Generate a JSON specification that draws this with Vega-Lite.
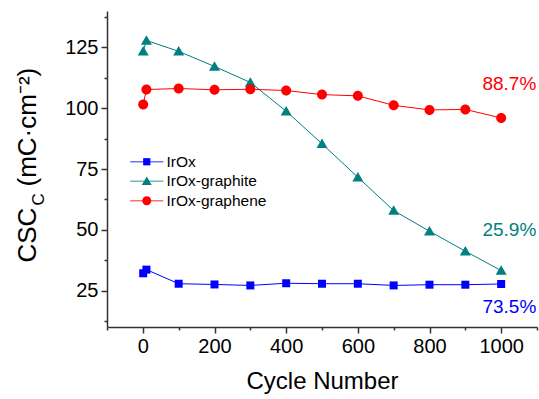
{
  "$schema": "https://vega.github.io/schema/vega-lite/v6.json",
  "width": 430,
  "height": 316,
  "autosize": {"type": "none"},
  "padding": {"left": 107, "top": 11, "right": 2, "bottom": 72},
  "background": "white",
  "config": {
    "view": {"stroke": null},
    "font": "Liberation Sans",
    "axis": {"grid": false, "domainColor": "#333333", "tickColor": "#333333", "domainWidth": 1.5, "tickWidth": 1.5, "labelColor": "#000000", "titleColor": "#000000", "labelFont": "Liberation Sans", "titleFont": "Liberation Sans", "titleFontWeight": "normal"},
    "legend": {"labelFont": "Liberation Sans"}
  },
  "datasets": {
    "points": [
      {"cycle": 1, "csc": 32.1, "series": "IrOx"},
      {"cycle": 10, "csc": 33.6, "series": "IrOx"},
      {"cycle": 100, "csc": 27.8, "series": "IrOx"},
      {"cycle": 200, "csc": 27.5, "series": "IrOx"},
      {"cycle": 300, "csc": 27.1, "series": "IrOx"},
      {"cycle": 400, "csc": 28.0, "series": "IrOx"},
      {"cycle": 500, "csc": 27.8, "series": "IrOx"},
      {"cycle": 600, "csc": 27.8, "series": "IrOx"},
      {"cycle": 700, "csc": 27.1, "series": "IrOx"},
      {"cycle": 800, "csc": 27.4, "series": "IrOx"},
      {"cycle": 900, "csc": 27.4, "series": "IrOx"},
      {"cycle": 1000, "csc": 27.7, "series": "IrOx"},
      {"cycle": 1, "csc": 123.4, "series": "IrOx-graphite"},
      {"cycle": 10, "csc": 127.9, "series": "IrOx-graphite"},
      {"cycle": 100, "csc": 123.4, "series": "IrOx-graphite"},
      {"cycle": 200, "csc": 117.2, "series": "IrOx-graphite"},
      {"cycle": 300, "csc": 110.6, "series": "IrOx-graphite"},
      {"cycle": 400, "csc": 98.8, "series": "IrOx-graphite"},
      {"cycle": 500, "csc": 85.4, "series": "IrOx-graphite"},
      {"cycle": 600, "csc": 71.6, "series": "IrOx-graphite"},
      {"cycle": 700, "csc": 57.9, "series": "IrOx-graphite"},
      {"cycle": 800, "csc": 49.4, "series": "IrOx-graphite"},
      {"cycle": 900, "csc": 41.2, "series": "IrOx-graphite"},
      {"cycle": 1000, "csc": 33.2, "series": "IrOx-graphite"},
      {"cycle": 1, "csc": 101.5, "series": "IrOx-graphene"},
      {"cycle": 10, "csc": 107.7, "series": "IrOx-graphene"},
      {"cycle": 100, "csc": 108.1, "series": "IrOx-graphene"},
      {"cycle": 200, "csc": 107.6, "series": "IrOx-graphene"},
      {"cycle": 300, "csc": 107.8, "series": "IrOx-graphene"},
      {"cycle": 400, "csc": 107.3, "series": "IrOx-graphene"},
      {"cycle": 500, "csc": 105.6, "series": "IrOx-graphene"},
      {"cycle": 600, "csc": 105.1, "series": "IrOx-graphene"},
      {"cycle": 700, "csc": 101.2, "series": "IrOx-graphene"},
      {"cycle": 800, "csc": 99.3, "series": "IrOx-graphene"},
      {"cycle": 900, "csc": 99.5, "series": "IrOx-graphene"},
      {"cycle": 1000, "csc": 96.0, "series": "IrOx-graphene"}
    ],
    "notes": [
      {"cycle": 1098, "csc": 110, "series": "IrOx-graphene", "label": "88.7%"},
      {"cycle": 1098, "csc": 50, "series": "IrOx-graphite", "label": "25.9%"},
      {"cycle": 1098, "csc": 18.4, "series": "IrOx", "label": "73.5%"}
    ]
  },
  "resolve": {
    "axis": {"x": "independent", "y": "independent"},
    "legend": {"color": "independent", "shape": "independent"}
  },
  "layer": [
    {
      "data": {"name": "points"},
      "mark": {"type": "line", "strokeWidth": 1},
      "encoding": {
        "x": {"field": "cycle", "type": "quantitative", "scale": {"domain": [-100, 1100], "nice": false, "zero": false},
          "axis": {"orient": "bottom", "values": [0, 200, 400, 600, 800, 1000], "format": "d", "tickSize": 6, "labelFontSize": 20, "labelPadding": 3, "title": "Cycle Number", "titleFontSize": 24, "titlePadding": 13}},
        "y": {"field": "csc", "type": "quantitative", "scale": {"domain": [10, 140], "nice": false, "zero": false},
          "axis": {"orient": "left", "values": [25, 50, 75, 100, 125], "tickSize": 6, "labelFontSize": 20, "labelPadding": 3, "title": "CSC", "titleFontSize": 26, "titleAngle": -90, "titleAlign": "left", "titleBaseline": "alphabetic", "titleX": -72, "titleY": 251}},
        "color": {"field": "series", "type": "nominal",
          "scale": {"domain": ["IrOx", "IrOx-graphite", "IrOx-graphene"], "range": ["#0000FF", "#008080", "#FF0000"]},
          "legend": {"title": null, "orient": "none", "legendX": 32, "legendY": 143, "padding": 0, "rowPadding": 2.5, "labelOffset": 12, "labelFontSize": 15.5, "labelColor": "#000000", "symbolType": "M-3.67,0H3.67", "symbolSize": 81, "symbolStrokeWidth": 1.5, "symbolOpacity": 0.55}},
        "order": {"field": "cycle", "type": "quantitative"}
      }
    },
    {
      "data": {"name": "points"},
      "mark": {"type": "point", "filled": true, "opacity": 1, "size": 100, "strokeWidth": 0},
      "encoding": {
        "x": {"field": "cycle", "type": "quantitative", "scale": {"domain": [-100, 1100], "nice": false, "zero": false},
          "axis": {"orient": "bottom", "values": [-100, 100, 300, 500, 700, 900, 1100], "tickSize": 3, "labels": false, "domain": false, "title": null}},
        "y": {"field": "csc", "type": "quantitative", "scale": {"domain": [10, 140], "nice": false, "zero": false},
          "axis": {"orient": "left", "values": [12.5, 37.5, 62.5, 87.5, 112.5, 137.5], "tickSize": 3, "labels": false, "domain": false, "title": "C", "titleFontSize": 17, "titleAngle": -90, "titleAlign": "left", "titleBaseline": "alphabetic", "titleX": -64, "titleY": 194}},
        "color": {"field": "series", "type": "nominal",
          "scale": {"domain": ["IrOx", "IrOx-graphite", "IrOx-graphene"], "range": ["#0000FF", "#008080", "#FF0000"]},
          "legend": {"title": null, "orient": "none", "legendX": 32, "legendY": 143, "padding": 0, "rowPadding": 2.5, "labelOffset": 12, "labelFontSize": 15.5, "labelOpacity": 0, "symbolSize": 81, "symbolStrokeWidth": 0}},
        "shape": {"field": "series", "type": "nominal",
          "scale": {"domain": ["IrOx", "IrOx-graphite", "IrOx-graphene"], "range": ["M-0.8,-0.8H0.8V0.8H-0.8Z", "M0,-1.05L1.1,0.85H-1.1Z", "M1,0A1,1 0 1,1 -1,0A1,1 0 1,1 1,0Z"]},
          "legend": {"title": null, "orient": "none", "legendX": 32, "legendY": 143, "padding": 0, "rowPadding": 2.5, "labelOffset": 12, "labelFontSize": 15.5, "labelOpacity": 0, "symbolSize": 81, "symbolStrokeWidth": 0}}
      }
    },
    {
      "data": {"name": "notes"},
      "mark": {"type": "text", "align": "right", "baseline": "middle", "fontSize": 19, "font": "Liberation Sans"},
      "encoding": {
        "x": {"field": "cycle", "type": "quantitative", "scale": {"domain": [-100, 1100], "nice": false, "zero": false}, "axis": null},
        "y": {"field": "csc", "type": "quantitative", "scale": {"domain": [10, 140], "nice": false, "zero": false},
          "axis": {"orient": "left", "ticks": false, "labels": false, "domain": false, "title": "(mC·cm⁻²)", "titleFontSize": 26, "titleAngle": -90, "titleAlign": "left", "titleBaseline": "alphabetic", "titleX": -72, "titleY": 175}},
        "text": {"field": "label", "type": "nominal"},
        "color": {"field": "series", "type": "nominal",
          "scale": {"domain": ["IrOx", "IrOx-graphite", "IrOx-graphene"], "range": ["#0000FF", "#008080", "#FF0000"]},
          "legend": null}
      }
    }
  ]
}
